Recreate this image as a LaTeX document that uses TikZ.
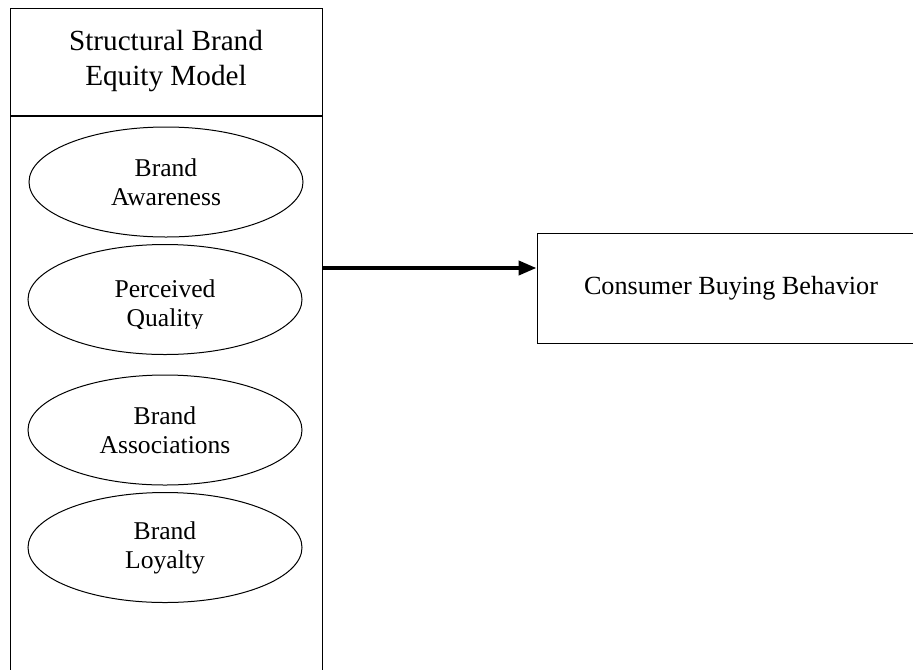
\documentclass[tikz,border=0pt]{standalone}
\usepackage{fontspec}
\setmainfont{Liberation Serif}
\usepackage{tikz}
\usetikzlibrary{positioning,shapes,arrows.meta}
\tikzstyle{head} = [rectangle, draw, line width=0.5pt, inner sep=0pt,
    minimum width=156pt, minimum height=53.5pt, align=center,
    font=\fontsize{14.6}{17.5}\selectfont]
\tikzstyle{panel} = [rectangle, draw, line width=0.5pt, inner sep=0pt,
    minimum width=156pt, minimum height=282.5pt]
\tikzstyle{dim} = [ellipse, draw, line width=0.5pt, inner sep=0pt,
    minimum width=137pt, minimum height=55pt, align=center,
    font=\fontsize{12.8}{14.5}\selectfont]
\tikzstyle{outcome} = [rectangle, draw, line width=0.5pt, inner sep=0pt,
    minimum width=194pt, minimum height=55pt,
    font=\fontsize{13.1}{15.7}\selectfont]
\tikzstyle{arrow} = [line width=2pt, -{Triangle[length=9pt,width=7pt]}]

\begin{document}
\begin{tikzpicture}[x=0.5pt, y=-0.5pt]
        \useasboundingbox (0,0) rectangle (913,669);
        % Place nodes
        \node [head] (model) at (166,61.5) {Structural Brand\\Equity Model};
        \node [panel, below=0pt of model] (body) {};
        \node [dim] (awareness) at (166,182) {Brand\\Awareness};
        \node [dim] (quality) at (165,299.5) {};
        % second label sits low and loses its descenders
        \begin{scope}
            \clip (29,240) rectangle (303,328);
            \node [dim, draw=none] (qualitytext) at (165,306) {Perceived\\Quality};
        \end{scope}
        \node [dim] (associations) at (165,430) {Brand\\Associations};
        \node [dim] (loyalty) at (165,547.5) {Brand\\Loyalty};
        \node [outcome] (behavior) at (731,288) {Consumer Buying Behavior};
        \coordinate (link) at (0,268);
        % Draw edges
        \draw [arrow] (body.east |- link) -- (behavior.west |- link);
    \end{tikzpicture}
\end{document}
